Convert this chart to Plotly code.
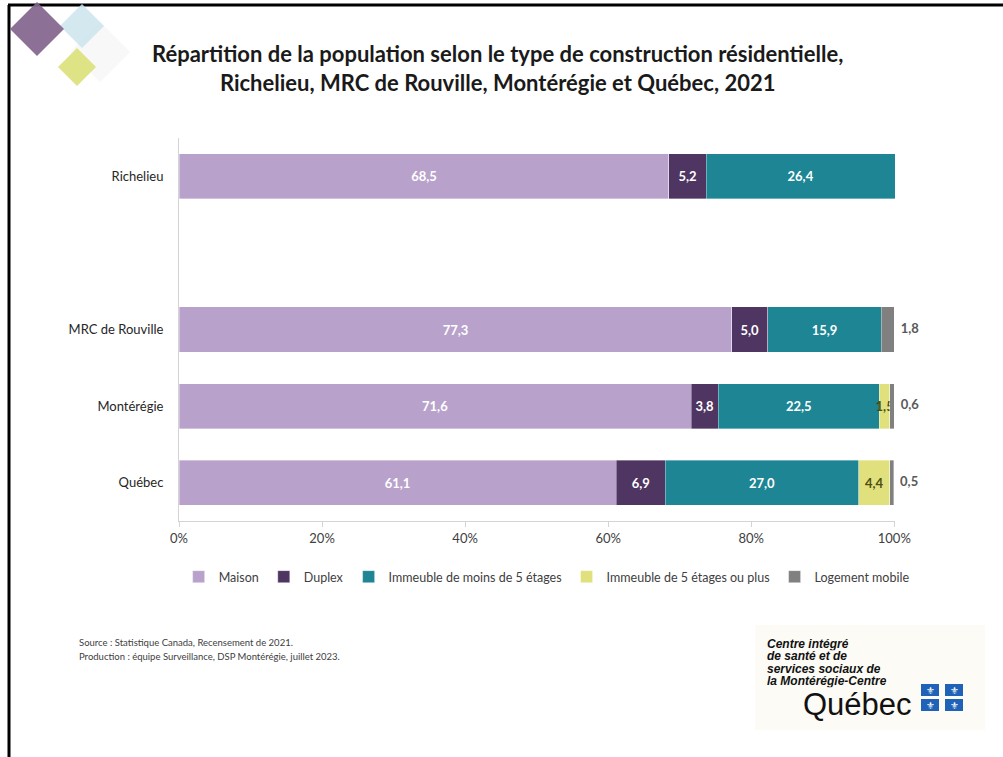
import plotly.graph_objects as go

# ---------------- data ----------------
categories = ["Richelieu", "", "MRC de Rouville", "Montérégie", "Québec"]
series_names = ["Maison", "Duplex", "Immeuble de moins de 5 étages",
                "Immeuble de 5 étages ou plus", "Logement mobile"]
maison = [68.5, None, 77.3, 71.6, 61.1]
duplex = [5.2, None, 5.0, 3.8, 6.9]
immeuble_moins5 = [26.4, None, 15.9, 22.5, 27.0]
immeuble_5plus = [0.0, None, 0.0, 1.5, 4.4]
logement_mobile = [0.0, None, 1.8, 0.6, 0.5]
x_ticks = [0, 20, 40, 60, 80, 100]

title_lines = ["Répartition de la population selon le type de construction résidentielle,",
               "Richelieu, MRC de Rouville, Montérégie et Québec, 2021"]
source_lines = ["Source : Statistique Canada, Recensement de 2021.",
                "Production : équipe Surveillance, DSP Montérégie, juillet 2023."]

colors = ["#b8a2cb", "#4f3562", "#1d8594", "#e0e07c", "#808080"]
label_colors = ["white", "white", "white", "#4d4d14", "#595959"]

# ---------------- geometry helpers (pixels -> paper) ----------------
W, H = 1003, 757
L, R, T, B = 179, 895, 138, 521


def px(x):
    return (x - L) / (R - L)


def py(y):
    return (B - y) / (B - T)


def fmt(v):
    if v is None or v == 0:
        return ""
    return f"{v:.1f}".replace(".", ",")


ypos = list(range(len(categories)))
series = [maison, duplex, immeuble_moins5, immeuble_5plus, logement_mobile]

fig = go.Figure()
for i, (name, vals) in enumerate(zip(series_names, series)):
    inside = i < 4
    fig.add_trace(go.Bar(
        y=ypos, x=vals, orientation="h", name=name,
        marker=dict(color=colors[i], line=dict(width=0.6, color="rgba(255,255,255,0.6)")),
        text=[fmt(v) for v in vals] if inside else None,
        textposition="inside" if inside else "none",
        insidetextanchor="middle",
        constraintext="none",
        textangle=0,
        cliponaxis=False,
        textfont=dict(color=label_colors[i], size=13, family="Lato", weight="bold"),
        hoverinfo="skip",
    ))

# outside labels for "Logement mobile"
totals = []
for k in range(len(categories)):
    if maison[k] is None:
        totals.append(None)
    else:
        totals.append(sum(s[k] for s in series))
fig.add_trace(go.Scatter(
    y=ypos, x=totals, mode="text",
    text=[("\u2002" + fmt(v)) if fmt(v) else "" for v in logement_mobile],
    textposition="middle right",
    textfont=dict(color="#595959", size=13, family="Lato", weight="bold"),
    showlegend=False, cliponaxis=False, hoverinfo="skip",
))

shapes = []
# slide frame (top + left)
shapes.append(dict(type="line", xref="paper", yref="paper", x0=px(8), x1=px(1003), y0=py(5), y1=py(5),
                   line=dict(color="black", width=3)))
shapes.append(dict(type="line", xref="paper", yref="paper", x0=px(9), x1=px(9), y0=py(5), y1=py(757),
                   line=dict(color="black", width=3)))


def diamond(cx, cy, h, color):
    pts = [(cx - h, cy), (cx, cy - h), (cx + h, cy), (cx, cy + h)]
    path = "M " + " L ".join(f"{px(a):.5f},{py(b):.5f}" for a, b in pts) + " Z"
    return dict(type="path", xref="paper", yref="paper", path=path,
                fillcolor=color, line=dict(width=0), layer="above")


shapes.append(diamond(100, 52, 30, "rgba(242,242,242,0.5)"))
shapes.append(diamond(82, 26, 22, "rgba(205,228,236,0.85)"))
shapes.append(diamond(37, 29, 27, "rgba(130,100,140,0.92)"))
shapes.append(diamond(77, 67, 19, "rgba(220,226,128,0.95)"))

# logo background
shapes.append(dict(type="rect", xref="paper", yref="paper", x0=px(755), x1=px(985), y0=py(625), y1=py(730),
                   fillcolor="#fcfbf6", line=dict(width=0), layer="below"))
# flag squares
flag_boxes = []
for (fx, fy) in [(921, 684), (945, 684), (921, 699), (945, 699)]:
    shapes.append(dict(type="rect", xref="paper", yref="paper", x0=px(fx), x1=px(fx + 18),
                       y0=py(fy), y1=py(fy + 12), fillcolor="#1f62b8", line=dict(width=0)))
    flag_boxes.append((fx + 9, fy + 6))

annotations = []
annotations.append(dict(xref="paper", yref="paper", x=px(497), y=py(68), xanchor="center", yanchor="middle",
                        text="<b>" + "<br>".join(title_lines) + "</b>", showarrow=False,
                        font=dict(family="Lato", size=22, color="#1a1a1a")))
for j, line in enumerate(source_lines):
    annotations.append(dict(xref="paper", yref="paper", x=px(77), y=py(642 + 14 * j), xanchor="left",
                            yanchor="middle", text=line, showarrow=False,
                            font=dict(family="Lato", size=9.5, color="#404040")))
logo_lines = ["Centre intégré", "de santé et de", "services sociaux de", "la Montérégie-Centre"]
for j, line in enumerate(logo_lines):
    annotations.append(dict(xref="paper", yref="paper", x=px(766), y=py(644 + 12.3 * j), xanchor="left",
                            yanchor="middle", text="<b><i>" + line + "</i></b>", showarrow=False,
                            height=12.3, borderpad=0, valign="middle",
                            font=dict(family="Liberation Sans", size=12, color="#111111")))
annotations.append(dict(xref="paper", yref="paper", x=px(913), y=py(704), xanchor="right", yanchor="middle",
                        text="Québec", showarrow=False, borderpad=0,
                        font=dict(family="Liberation Sans", size=31, color="#111111")))
for (cx, cy) in flag_boxes:
    annotations.append(dict(xref="paper", yref="paper", x=px(cx), y=py(cy), xanchor="center", yanchor="middle",
                            text="⚜", showarrow=False, font=dict(family="DejaVu Sans", size=10, color="white")))

fig.update_layout(
    width=W, height=H,
    margin=dict(l=L, r=W - R, t=T, b=H - B, pad=0, autoexpand=False),
    barmode="stack", bargap=0.41,
    separators=", ",
    plot_bgcolor="white", paper_bgcolor="white",
    font=dict(family="Lato", size=13, color="#404040"),
    showlegend=True,
    legend=dict(orientation="h", x=-0.0005, xanchor="left", y=py(577), yanchor="middle",
                font=dict(family="Lato", size=12.5, color="#404040"),
                itemwidth=30, traceorder="normal"),
    shapes=shapes, annotations=annotations,
)
fig.update_xaxes(range=[0, 100.1], tickvals=x_ticks, ticktext=[f"{t}%" for t in x_ticks],
                 showgrid=False, zeroline=False, showline=True, linecolor="#d4d4d4", linewidth=1,
                 ticks="outside", ticklen=5, tickcolor="#d4d4d4",
                 tickfont=dict(family="Lato", size=13, color="#404040"), fixedrange=True)
fig.update_yaxes(range=[len(categories) - 0.5, -0.5], tickvals=ypos, ticktext=categories,
                 showgrid=False, zeroline=False, showline=True, linecolor="#d4d4d4", linewidth=1,
                 ticks="", ticklabelstandoff=12,
                 tickfont=dict(family="Lato", size=13, color="#262626"), fixedrange=True)

fig.write_html("out.html", config={"displayModeBar": False},
               post_script="document.body.style.margin='0';")
